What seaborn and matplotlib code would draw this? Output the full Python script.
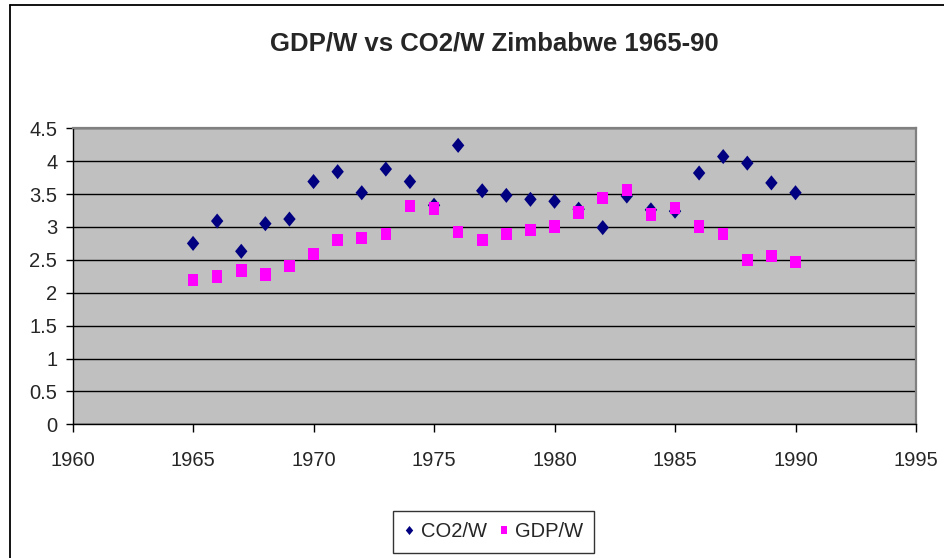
"""
GDP/W vs CO2/W, Zimbabwe 1965-90 (Excel-style scatter)
"""
import numpy as np
import pandas as pd
import seaborn as sns
from matplotlib import pyplot as plt
from matplotlib.lines import Line2D


"""
# Data (read off the reference chart)
"""
years = list(range(1965, 1991))
co2_w = [2.75, 3.09, 2.63, 3.05, 3.12, 3.69, 3.84, 3.52, 3.88, 3.69,
         3.33, 4.24, 3.55, 3.48, 3.42, 3.39, 3.27, 2.99, 3.47, 3.26,
         3.24, 3.82, 4.07, 3.97, 3.67, 3.52]
gdp_w = [2.19, 2.25, 2.34, 2.28, 2.41, 2.59, 2.80, 2.83, 2.89, 3.32,
         3.28, 2.92, 2.80, 2.89, 2.95, 3.01, 3.22, 3.44, 3.56, 3.19,
         3.29, 3.01, 2.89, 2.50, 2.56, 2.47]
series_names = ['CO2/W', 'GDP/W']
x_ticks = list(range(1960, 1996, 5))
y_ticks = [0, 0.5, 1, 1.5, 2, 2.5, 3, 3.5, 4, 4.5]
title = 'GDP/W vs CO2/W Zimbabwe 1965-90'

df = pd.DataFrame({
    'year': years + years,
    'value': co2_w + gdp_w,
    'series': [series_names[0]] * len(years) + [series_names[1]] * len(years),
})


"""
# Style
"""
sns.set_style('white')
plt.rcParams['font.family'] = ['Liberation Sans', 'DejaVu Sans']

# Excel markers are a bit taller than wide
diamond = [(0, 1), (0.82, 0), (0, -1), (-0.82, 0), (0, 1)]
rect = [(-0.85, -1), (0.85, -1), (0.85, 1), (-0.85, 1), (-0.85, -1)]
palette = {'CO2/W': '#000080', 'GDP/W': '#FF00FF'}
markers = {'CO2/W': diamond, 'GDP/W': rect}
sizes = {'CO2/W': 118, 'GDP/W': 80}


"""
# Plot
"""
fig = plt.figure(figsize=(9.45, 5.58), dpi=100)
ax = fig.add_axes([0.0768, 0.2396, 0.8925, 0.5305])
ax.set_facecolor('#C0C0C0')

sns.scatterplot(data=df, x='year', y='value', hue='series', style='series',
                size='series', sizes=sizes, size_order=series_names,
                palette=palette, markers=markers, linewidth=0,
                hue_order=series_names, style_order=series_names, ax=ax,
                zorder=3)

ax.set_xlim(1960, 1995)
ax.set_ylim(0, 4.5)
ax.set_xticks(x_ticks)
ax.set_xticklabels([str(t) for t in x_ticks])
ax.set_yticks(y_ticks)
ax.set_yticklabels([f'{t:g}' for t in y_ticks])
ax.set_xlabel('')
ax.set_ylabel('')
ax.yaxis.grid(True, color='black', linewidth=1)
ax.xaxis.grid(False)
ax.set_axisbelow(True)

for side in ['left', 'bottom']:
    ax.spines[side].set_color('black')
    ax.spines[side].set_linewidth(1)
for side in ['top', 'right']:
    ax.spines[side].set_color('#808080')
    ax.spines[side].set_linewidth(1.6)

ax.tick_params(axis='y', direction='out', length=5, width=1, color='black',
               labelsize=14.5, pad=6, left=True)
ax.tick_params(axis='x', direction='out', length=6, width=1, color='black',
               labelsize=14.5, pad=13, bottom=True)

fig.text(0.523, 0.922, title, ha='center', va='center', fontsize=18.5,
         fontweight='bold')

sns.move_legend(ax, 'center', bbox_to_anchor=(0.5224, 0.0466),
                bbox_transform=fig.transFigure, ncol=2, title=None,
                frameon=True, fancybox=False, fontsize=14.5,
                markerscale=0.6, handlelength=0.5, handletextpad=0.3,
                columnspacing=0.6, borderpad=0.55, edgecolor='black')
ax.legend_.get_frame().set_linewidth(1)

# chart-area border (top and left edges visible in the reference)
fig.add_artist(Line2D([10 / 945, 1], [1 - 5 / 558] * 2,
                      transform=fig.transFigure, color='black', lw=1.3))
fig.add_artist(Line2D([10 / 945] * 2, [0, 1 - 5 / 558],
                      transform=fig.transFigure, color='black', lw=1.3))

fig.savefig('out.png', dpi=100)
